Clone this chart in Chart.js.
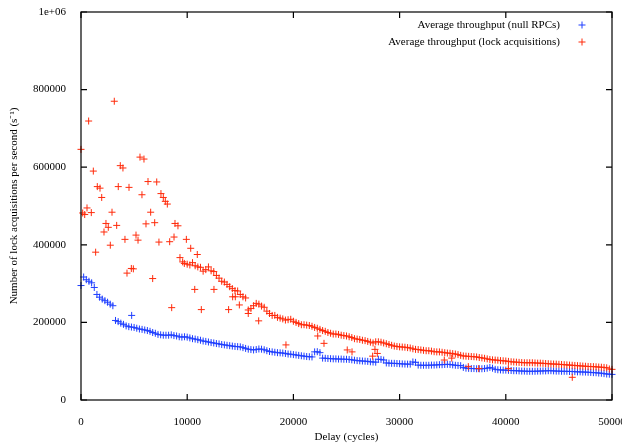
<!DOCTYPE html>
<html>
<head>
<meta charset="utf-8">
<script src="https://cdn.jsdelivr.net/npm/chart.js@4/dist/chart.umd.min.js"></script>
<style>
  body { margin: 0; background: #fff; }
  canvas { display: block; }
</style>
</head>
<body>
<canvas id="throughputChart" width="622" height="445"></canvas>
<script>
// values are [delay in cycles, throughput in thousands per second]
const nullRpcK = [
  [0,295],[250,317],[500,310],[750,306],[1000,302],[1250,290],[1500,272],[1750,265],[2000,260],[2250,256],
  [2500,252],[2750,247],[3000,243],[3250,205],[3500,202],[3750,198],[4000,195],[4250,191],[4500,189],[4750,188],
  [4770,218],
  [5000,187],[5250,185],[5500,183],[5750,182],[6000,180.5],[6250,179],[6500,177],[6750,174],[7000,172],[7250,169],
  [7500,168],[7750,167],[8000,167],[8250,167],[8500,168],[8750,166],[9000,165],[9250,163],[9500,162],[9750,163],
  [10000,162],[10250,160],[10500,158],[10750,157],[11000,155.5],[11250,154],[11500,152],[11750,151],[12000,149.5],[12250,148],
  [12500,147],[12750,145.5],[13000,144.5],[13250,143],[13500,142],[13750,141],[14000,140],[14250,139],[14500,138],[14750,137.5],
  [15000,137],[15250,135],[15500,133],[15750,131],[16000,130],[16250,129],[16500,130],[16750,131.5],[17000,131],[17250,129.5],
  [17500,127],[17750,125],[18000,124],[18250,123],[18500,122],[18750,121.5],[19000,121],[19250,120],[19500,118.5],[19750,118],
  [20000,117],[20250,116],[20500,115],[20750,114],[21000,113],[21250,112],[21500,111.5],[21750,111],[22000,124],[22250,124.5],
  [22500,122],[22750,108],[23000,107.5],[23250,107],[23500,106.5],[23750,106],[24000,106],[24250,105.5],[24500,105.5],[24750,105],
  [25000,105],[25250,104.5],[25500,103.5],[25750,102.5],[26000,101.5],[26250,101],[26500,100.5],[26750,100],[27000,99.5],[27250,98.5],
  [27500,98],[27750,97.5],[28000,105],[28250,104.5],[28500,103],[28750,95.5],[29000,95],[29250,94.5],[29500,94.5],[29750,94],
  [30000,93.5],[30250,93],[30500,92.7],[30750,92.5],[31000,92.5],[31250,98],[31500,97],[31750,90],[32000,89.5],[32250,89.5],
  [32500,89.5],[32750,89.5],[33000,90],[33250,90],[33500,90.5],[33750,91],[34000,91],[34250,91.5],[34500,92],[34750,91.5],
  [35000,90.5],[35250,89.5],[35500,89],[35750,88.5],[36000,84],[36250,82],[36500,81.5],[36750,81],[37000,81],[37250,80.5],
  [37500,80.5],[37750,80.5],[38000,81],[38250,82],[38500,84],[38750,82],[39000,79],[39250,78],[39500,77.5],[39750,77],
  [40000,77],[40250,76.5],[40500,76],[40750,75.5],[41000,75.5],[41250,75],[41500,74.5],[41750,74.5],[42000,74],[42250,74],
  [42500,74],[42750,74],[43000,74.5],[43250,74.5],[43500,75],[43750,75],[44000,75.5],[44250,75.5],[44500,75],[44750,74.5],
  [45000,74.5],[45250,74],[45500,74],[45750,74],[46000,73.5],[46250,73.5],[46500,73],[46750,72.5],[47000,72.5],[47250,72],
  [47500,72],[47750,71.5],[48000,71],[48250,70.5],[48500,70.3],[48750,69.5],[49000,69],[49250,68],[49500,67],[49750,66.5],
  [50000,66]
];

const lockK = [
  // scattered low-delay samples
  [0,646],[160,482],[350,478],[565,495],[720,719],[970,483],[1160,590],[1380,381],[1535,550],[1790,546],
  [1950,522],[2165,433],[2350,455],[2570,445],[2760,399],[2920,484],[3135,770],[3360,450],[3510,550],[3700,604],
  [3950,598],[4140,414],[4330,327],[4520,548],[4740,339],[4930,338],[5180,425],[5370,412],[5555,626],[5740,529],
  [5930,621],[6120,454],[6310,563],[6560,484],[6750,313],[6940,457],[7130,562],[7340,407],[7530,532],[7750,522],
  [7940,512],[8130,505],[8350,408],[8540,238],[8760,420],[8850,455],[9130,449],[9320,367],[9570,356],[9730,352],
  [9920,414],
  // main band
  [10000,350],[10250,348],[10500,354],[10750,346],[11000,343],[11250,342],[11500,332],[11750,336],[12000,343],[12250,333],
  [12500,331],[12750,321],[13000,314],[13250,306],[13500,304],[13750,298],[14000,292],[14250,287],[14500,282],[14750,281],
  [15000,272],[15250,266],[15500,263],[15750,232],[16000,236],[16250,243],[16500,249],[16750,247],[17000,242],[17250,239],
  [17500,229],[17750,223],[18000,218],[18250,218],[18500,213],[18750,211],[19000,209],[19250,206],[19500,207],[19750,208],
  [20000,203],[20250,200],[20500,197],[20750,194],[21000,194],[21250,193],[21500,192],[21750,190],[22000,187],[22250,185],
  [22500,182],[22750,179],[23000,177],[23250,174],[23500,172],[23750,170],[24000,170],[24250,169],[24500,167],[24750,166],
  [25000,165],[25250,163],[25500,161],[25750,158],[26000,157],[26250,156],[26500,154],[26750,153],[27000,151],[27250,149],
  [27500,147],[27750,150],[28000,150],[28250,149],[28500,147],[28750,145],[29000,143],[29250,141],[29500,139],[29750,138],
  [30000,137],[30250,136.5],[30500,136],[30750,135],[31000,134],[31250,132],[31500,130.5],[31750,130],[32000,129],[32250,128],
  [32500,127],[32750,127],[33000,126],[33250,124.5],[33500,124],[33750,124],[34000,123],[34250,122],[34500,121],[34750,120.5],
  [35000,119.5],[35250,118.5],[35500,117],[35750,115],[36000,113.5],[36250,113],[36500,112.5],[36750,112],[37000,111.5],[37250,111],
  [37500,109.5],[37750,108.5],[38000,107.5],[38250,106],[38500,104.5],[38750,103.5],[39000,103],[39250,102.5],[39500,101.5],[39750,101],
  [40000,100.5],[40250,99.5],[40500,98.5],[40750,98],[41000,97.5],[41250,97],[41500,96.5],[41750,96],[42000,96],[42250,96],
  [42500,96],[42750,95.5],[43000,95],[43250,95],[43500,94.5],[43750,94],[44000,93.5],[44250,93],[44500,92.7],[44750,92.5],
  [45000,92],[45250,91.5],[45500,91],[45750,90.5],[46000,90],[46250,89.5],[46500,89],[46750,88.5],[47000,88],[47250,87.5],
  [47500,87],[47750,86.5],[48000,86.2],[48250,86],[48500,85.5],[48750,85],[49000,84.5],[49250,84],[49500,83],[49750,80],
  [50000,79],
  // outliers
  [10330,391],[10950,375],[10710,285],[11330,233],[12520,285],[13900,233],[14280,266],[14530,266],[14910,245],[15750,223],
  [16730,204],[19300,142],[22290,165],[22880,146],[25070,129],[25520,124],[27460,113],[27680,130.5],[27900,120],[34210,103],
  [34910,108],[36470,86],[37450,81],[40240,81],[46260,58.5]
];

const seriesNames = ['Average throughput (null RPCs)', 'Average throughput (lock acquisitions)'];
const seriesColors = ['#1f3fff', '#ff2a0a'];
const yTicks = [0, 200000, 400000, 600000, 800000, 1000000];

const toPoints = (arr) => arr.map(p => ({ x: p[0], y: p[1] * 1000 }));
const FONT = 'Liberation Serif, Times New Roman, serif';

// gnuplot-style frame with inward mirrored ticks plus the key
const gnuplotFrame = {
  id: 'gnuplotFrame',
  afterDraw(chart) {
    const { ctx, chartArea: a, scales: { x, y } } = chart;
    ctx.save();
    ctx.strokeStyle = '#000';
    ctx.lineWidth = 1.2;
    ctx.strokeRect(a.left, a.top, a.right - a.left, a.bottom - a.top);
    ctx.beginPath();
    x.ticks.forEach(t => {
      const px = x.getPixelForValue(t.value);
      ctx.moveTo(px, a.bottom); ctx.lineTo(px, a.bottom - 6);
      ctx.moveTo(px, a.top); ctx.lineTo(px, a.top + 6);
    });
    y.ticks.forEach(t => {
      const py = y.getPixelForValue(t.value);
      ctx.moveTo(a.left, py); ctx.lineTo(a.left + 6, py);
      ctx.moveTo(a.right, py); ctx.lineTo(a.right - 6, py);
    });
    ctx.stroke();

    // key
    ctx.font = '11px ' + FONT;
    ctx.fillStyle = '#000';
    ctx.textAlign = 'right';
    ctx.textBaseline = 'middle';
    seriesNames.forEach((name, i) => {
      const ty = a.top + 13 + i * 17;
      ctx.fillText(name, a.right - 52, ty);
      const mx = a.right - 30;
      ctx.strokeStyle = seriesColors[i];
      ctx.lineWidth = 1;
      ctx.beginPath();
      ctx.moveTo(mx - 3.5, ty); ctx.lineTo(mx + 3.5, ty);
      ctx.moveTo(mx, ty - 3.5); ctx.lineTo(mx, ty + 3.5);
      ctx.stroke();
    });
    ctx.restore();
  }
};

const ctx = document.getElementById('throughputChart').getContext('2d');
new Chart(ctx, {
  type: 'scatter',
  data: {
    datasets: [
      {
        label: seriesNames[0],
        data: toPoints(nullRpcK),
        pointStyle: 'cross',
        pointRadius: 3.5,
        borderWidth: 1,
        borderColor: seriesColors[0],
        backgroundColor: seriesColors[0],
        clip: false,
        order: 2
      },
      {
        label: seriesNames[1],
        data: toPoints(lockK),
        pointStyle: 'cross',
        pointRadius: 3.5,
        borderWidth: 1,
        borderColor: seriesColors[1],
        backgroundColor: seriesColors[1],
        clip: false,
        order: 1
      }
    ]
  },
  options: {
    responsive: false,
    animation: false,
    layout: { padding: { top: 12, right: 10, bottom: 0, left: 0 } },
    plugins: {
      legend: { display: false },
      tooltip: { enabled: false }
    },
    scales: {
      x: {
        type: 'linear',
        min: 0,
        max: 50000,
        grid: { display: false },
        border: { display: false },
        ticks: {
          stepSize: 10000,
          padding: 8,
          color: '#000',
          maxRotation: 0,
          font: { family: FONT, size: 11 },
          callback: v => String(v)
        },
        title: {
          display: true,
          text: 'Delay (cycles)',
          color: '#000',
          font: { family: FONT, size: 11 },
          padding: { top: 0, bottom: 1 }
        },
        afterFit: s => { s.height = 45; s.paddingLeft = 0; s.paddingRight = 0; }
      },
      y: {
        type: 'linear',
        min: 0,
        max: 1000000,
        grid: { display: false },
        border: { display: false },
        afterBuildTicks: s => { s.ticks = yTicks.map(v => ({ value: v })); },
        ticks: {
          padding: 7,
          color: '#000',
          font: { family: FONT, size: 11 },
          callback: v => (v === 1000000 ? '1e+06' : String(v))
        },
        title: {
          display: true,
          text: 'Number of lock acquisitions per second (s\u207B\u00B9)',
          color: '#000',
          font: { family: FONT, size: 11 },
          padding: { top: 8, bottom: 0 }
        },
        afterFit: s => { s.width = 81; s.paddingTop = 0; s.paddingBottom = 0; }
      }
    }
  },
  plugins: [gnuplotFrame]
});
</script>
</body>
</html>
